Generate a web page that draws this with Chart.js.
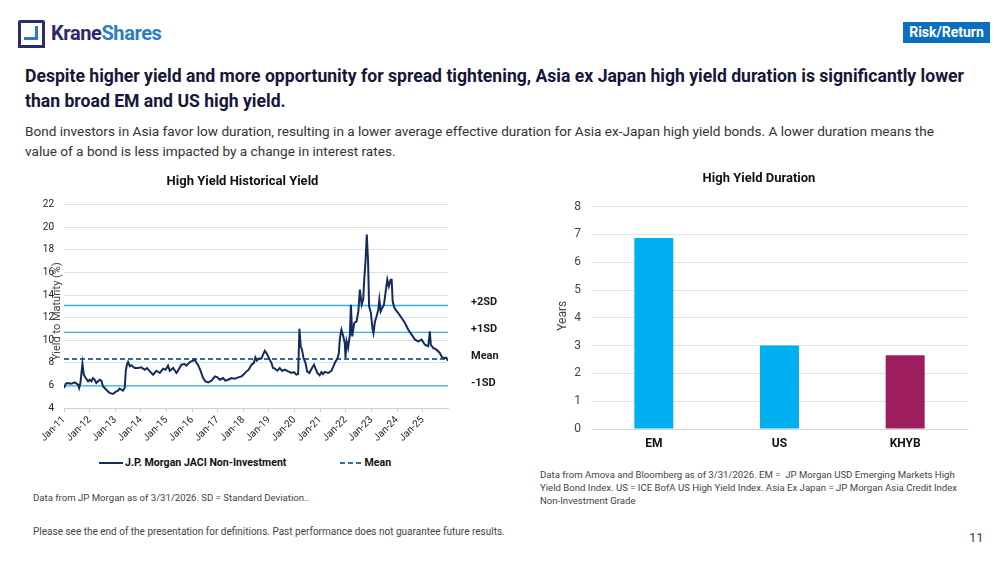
<!DOCTYPE html>
<html>
<head>
<meta charset="utf-8">
<script src="https://cdn.jsdelivr.net/npm/chart.js@4"></script>
<style>
  body { margin: 0; background: #fff; font-family: Roboto, sans-serif; }
  #page { position: relative; width: 1000px; height: 563px; overflow: hidden; }
  .abs { position: absolute; white-space: nowrap; }
  #logoBox { left: 18px; top: 20px; width: 21px; height: 22px; border: 3px solid #2b2d6e; border-radius: 2px; }
  #logoFeet { left: 18px; top: 45px; width: 27px; height: 3px; background: #2b2d6e; }
  #logoInner { left: 24px; top: 26px; width: 11px; height: 11px; border-right: 3px solid #2c7dc3; border-bottom: 3px solid #2c7dc3; }
  #logoText { left: 51px; top: 21px; font-size: 20px; font-weight: 700; color: #2b2a6b; letter-spacing: -0.4px; }
  #logoText span { color: #2c7dc3; }
  #tag { left: 903px; top: 22px; width: 87px; height: 21px; background: #0b6fbf; color: #fff; font-size: 14px; font-weight: 700; text-align: center; line-height: 21px; }
  #heading { left: 25px; top: 64px; font-size: 17.6px; font-weight: 700; color: #16163a; line-height: 25px; }
  #para { left: 25px; top: 121px; font-size: 13.6px; color: #333; line-height: 20px; }
  .note { font-size: 9.6px; color: #444; line-height: 13px; }
  #pageNo { left: 969px; top: 530px; font-size: 13px; color: #444; }
  #yieldLegend { left: 99px; top: 456px; display: flex; gap: 54px; font-size: 10.6px; font-weight: 700; color: #111; }
  #yieldLegend div { display: flex; align-items: center; }
  #yieldLegend svg { margin-right: 2px; }
</style>
</head>
<body>
<div id="page">
  <div class="abs" id="logoBox"></div>
  <div class="abs" id="logoFeet"></div>
  <div class="abs" id="logoInner"></div>
  <div class="abs" id="logoText">Krane<span>Shares</span></div>
  <div class="abs" id="tag">Risk/Return</div>
  <div class="abs" id="heading">Despite higher yield and more opportunity for spread tightening, Asia ex Japan high yield duration is significantly lower<br>than broad EM and US high yield.</div>
  <div class="abs" id="para">Bond investors in Asia favor low duration, resulting in a lower average effective duration for Asia ex-Japan high yield bonds. A lower duration means the<br>value of a bond is less impacted by a change in interest rates.</div>

  <div class="abs" style="left:25px; top:164px; width:480px; height:282px;"><canvas id="yieldChart"></canvas></div>
  <div class="abs" id="yieldLegend"></div>
  <div class="abs" style="left:520px; top:161px; width:470px; height:300px;"><canvas id="durChart"></canvas></div>

  <div class="abs note" style="left:33px; top:491px;">Data from JP Morgan as of 3/31/2026. SD = Standard Deviation..</div>
  <div class="abs note" style="left:33px; top:525px; font-size:10px;">Please see the end of the presentation for definitions. Past performance does not guarantee future results.</div>
  <div class="abs note" style="left:540px; top:468px;">Data from Amova and Bloomberg as of 3/31/2026. EM =&nbsp; JP Morgan USD Emerging Markets High<br>Yield Bond Index. US = ICE BofA US High Yield Index. Asia Ex Japan = JP Morgan Asia Credit Index<br>Non-Investment Grade</div>
  <div class="abs" id="pageNo">11</div>
</div>

<script>
// left chart: JACI non-investment grade yield to maturity (%)
var yieldDates = [
  2011.00, 2011.07, 2011.16, 2011.29, 2011.42, 2011.55, 2011.59, 2011.64, 2011.72, 2011.77,
  2011.85, 2011.94, 2012.00, 2012.07, 2012.13, 2012.20, 2012.26, 2012.33, 2012.39, 2012.46,
  2012.52, 2012.65, 2012.78, 2012.91, 2013.04, 2013.11, 2013.17, 2013.24, 2013.30, 2013.37,
  2013.41, 2013.46, 2013.50, 2013.57, 2013.63, 2013.76, 2013.89, 2014.02, 2014.15, 2014.24,
  2014.35, 2014.48, 2014.61, 2014.74, 2014.87, 2014.97, 2015.06, 2015.13, 2015.26, 2015.39,
  2015.45, 2015.58, 2015.71, 2015.78, 2015.91, 2016.04, 2016.10, 2016.17, 2016.23, 2016.34,
  2016.43, 2016.52, 2016.63, 2016.76, 2016.89, 2016.99, 2017.08, 2017.21, 2017.30, 2017.41,
  2017.54, 2017.67, 2017.80, 2017.93, 2018.03, 2018.12, 2018.21, 2018.32, 2018.41, 2018.47,
  2018.53, 2018.61, 2018.71, 2018.77, 2018.84, 2018.90, 2018.97, 2019.03, 2019.10, 2019.16,
  2019.23, 2019.33, 2019.42, 2019.51, 2019.62, 2019.75, 2019.88, 2019.98, 2020.07, 2020.14,
  2020.19, 2020.24, 2020.29, 2020.35, 2020.43, 2020.49, 2020.58, 2020.68, 2020.76, 2020.81,
  2020.89, 2020.98, 2021.05, 2021.11, 2021.18, 2021.31, 2021.44, 2021.52, 2021.57, 2021.68,
  2021.73, 2021.77, 2021.83, 2021.90, 2021.96, 2021.99, 2022.03, 2022.09, 2022.16, 2022.20,
  2022.25, 2022.33, 2022.42, 2022.49, 2022.55, 2022.62, 2022.68, 2022.72, 2022.77, 2022.82,
  2022.87, 2022.91, 2022.98, 2023.04, 2023.08, 2023.14, 2023.20, 2023.27, 2023.31, 2023.36,
  2023.42, 2023.49, 2023.55, 2023.62, 2023.68, 2023.75, 2023.79, 2023.83, 2023.88, 2023.94,
  2024.05, 2024.18, 2024.31, 2024.44, 2024.57, 2024.70, 2024.83, 2024.96, 2025.09, 2025.22,
  2025.28, 2025.32, 2025.41, 2025.54, 2025.67, 2025.76, 2025.86, 2025.92, 2025.99
];
var yieldValues = [
  5.77, 6.15, 6.20, 6.15, 6.27, 6.06, 5.77, 6.21, 7.92, 6.95,
  6.65, 6.36, 6.50, 6.36, 6.65, 6.50, 6.21, 6.36, 6.50, 6.42,
  5.92, 5.62, 5.33, 5.24, 5.47, 5.53, 5.71, 5.62, 5.53, 5.77,
  7.24, 7.89, 8.07, 7.69, 7.78, 7.54, 7.54, 7.60, 7.39, 7.54,
  7.24, 6.95, 7.30, 7.10, 7.48, 7.39, 7.75, 7.30, 7.54, 7.10,
  7.30, 7.83, 7.89, 7.75, 8.07, 8.19, 8.30, 7.98, 7.83, 7.24,
  6.65, 6.36, 6.27, 6.42, 6.80, 6.71, 6.50, 6.65, 6.42, 6.50,
  6.65, 6.60, 6.71, 6.80, 7.00, 7.24, 7.39, 7.83, 7.98, 8.48,
  8.19, 8.37, 8.37, 8.72, 9.07, 8.87, 8.57, 8.28, 7.98, 7.54,
  7.48, 7.30, 7.54, 7.30, 7.39, 7.24, 7.10, 7.18, 6.95, 7.00,
  11.02, 9.46, 9.16, 8.42, 7.98, 7.24, 7.10, 7.54, 7.83, 7.54,
  7.10, 6.89, 7.18, 7.00, 7.20, 7.10, 7.30, 7.70, 7.98, 8.42,
  8.87, 10.19, 10.93, 10.34, 9.75, 8.42, 9.90, 9.31, 10.50, 13.14,
  10.34, 11.52, 11.67, 12.55, 14.47, 13.14, 13.59, 15.36, 16.98, 19.34,
  16.98, 13.00, 12.40, 11.08, 10.64, 11.67, 12.10, 12.70, 13.59, 12.55,
  12.85, 13.14, 14.18, 15.36, 14.77, 15.36, 15.36, 13.44, 13.00, 12.70,
  12.40, 11.96, 11.52, 10.93, 10.49, 10.05, 9.90, 10.05, 9.60, 9.46,
  10.78, 9.60, 9.31, 9.16, 8.87, 8.48, 8.42, 8.45, 8.19
];
var tickYears = [2011, 2012, 2013, 2014, 2015, 2016, 2017, 2018, 2019, 2020, 2021, 2022, 2023, 2024, 2025];
var tickLabels = ['Jan-11', 'Jan-12', 'Jan-13', 'Jan-14', 'Jan-15', 'Jan-16', 'Jan-17', 'Jan-18', 'Jan-19', 'Jan-20', 'Jan-21', 'Jan-22', 'Jan-23', 'Jan-24', 'Jan-25'];
var sdLabels = ['+2SD', '+1SD', 'Mean', '-1SD'];
var sdValues = [13.07, 10.70, 8.33, 5.96];

// right chart: duration in years
var durCategories = ['EM', 'US', 'KHYB'];
var durValues = [6.87, 3.0, 2.65];
var durColors = ['#00b0f0', '#00b0f0', '#9d1d5f'];

var xStart = yieldDates[0], xEnd = yieldDates[yieldDates.length - 1];
function flatLine(v) { return [{x: xStart, y: v}, {x: xEnd, y: v}]; }

// rotated axis title drawn by hand so it can sit over the ticks like the original
function axisTitle(text, font, offset, dy) {
  return {
    id: 'axisTitle',
    afterDraw: function (chart) {
      var ctx = chart.ctx, a = chart.chartArea;
      ctx.save();
      ctx.translate(a.left - offset, (a.top + a.bottom) / 2 + dy);
      ctx.rotate(-Math.PI / 2);
      ctx.font = font;
      ctx.fillStyle = '#444';
      ctx.textAlign = 'center';
      ctx.textBaseline = 'middle';
      ctx.fillText(text, 0, 0);
      ctx.restore();
    }
  };
}

var sdLabelPlugin = {
  id: 'sdLabels',
  afterDatasetsDraw: function (chart) {
    var ctx = chart.ctx, area = chart.chartArea, ys = chart.scales.y;
    ctx.save();
    ctx.font = 'bold 11px Roboto';
    ctx.fillStyle = '#1a1a1a';
    ctx.textBaseline = 'middle';
    sdLabels.forEach(function (lbl, i) {
      ctx.fillText(lbl, area.right + 23, ys.getPixelForValue(sdValues[i]) - 3);
    });
    ctx.restore();
  }
};

var sdDatasets = sdValues.map(function (v, i) {
  return {
    label: sdLabels[i],
    data: flatLine(v),
    borderColor: i === 2 ? '#2f6fa3' : '#2fb2e6',
    borderWidth: i === 2 ? 2 : 1.3,
    borderDash: i === 2 ? [5, 3] : [],
    pointRadius: 0
  };
});
var meanSet = sdDatasets.splice(2, 1)[0];

var yieldChart = new Chart(document.getElementById('yieldChart'), {
  type: 'line',
  data: {
    datasets: [{
      label: 'J.P. Morgan JACI Non-Investment',
      data: yieldDates.map(function (d, i) { return {x: d, y: yieldValues[i]}; }),
      borderColor: '#142b5e',
      borderWidth: 2,
      borderDash: [],
      pointRadius: 0,
      tension: 0
    }, meanSet].concat(sdDatasets)
  },
  options: {
    responsive: true,
    maintainAspectRatio: false,
    animation: false,
    layout: { padding: { left: 12, right: 57, top: 0, bottom: 0 } },
    plugins: {
      title: { display: true, text: 'High Yield Historical Yield', color: '#111', font: { family: 'Roboto', size: 13, weight: 'bold' }, padding: { top: 10, bottom: 15 } },
      legend: { display: false },
      tooltip: { enabled: false }
    },
    scales: {
      x: {
        type: 'linear', min: xStart, max: xEnd,
        afterBuildTicks: function (scale) { scale.ticks = tickYears.map(function (v) { return {value: v}; }); },
        afterFit: function (scale) { scale.height = 38; },
        ticks: {
          callback: function (v) { return tickLabels[tickYears.indexOf(v)]; },
          minRotation: 45, maxRotation: 45, color: '#222', font: { family: 'Roboto', size: 10 }, padding: 2
        },
        grid: { drawOnChartArea: false, tickLength: 4, color: '#cfcfcf' },
        border: { color: '#cfcfcf' }
      },
      y: {
        min: 4, max: 22,
        afterFit: function (scale) { scale.width = 27; },
        ticks: { stepSize: 2, color: '#222', font: { family: 'Roboto', size: 10 }, padding: 10 },
        grid: { color: '#e0e0e0', drawTicks: false },
        border: { display: false }
      }
    }
  },
  plugins: [sdLabelPlugin, axisTitle('Yield to Maturity (%)', '11px Roboto', 7, 5)]
});

// legend for the two named series, built from the chart's own datasets
yieldChart.data.datasets.slice(0, 2).forEach(function (ds) {
  var item = document.createElement('div');
  var dash = ds.borderDash.length ? ' stroke-dasharray="' + ds.borderDash.join(' ') + '"' : '';
  var w = ds.borderDash.length ? 22 : 24;
  item.innerHTML = '<svg width="' + w + '" height="6"><line x1="0" y1="3" x2="' + w + '" y2="3" stroke="' + ds.borderColor +
    '" stroke-width="2"' + dash + '/></svg><span>' + ds.label + '</span>';
  document.getElementById('yieldLegend').appendChild(item);
});

new Chart(document.getElementById('durChart'), {
  type: 'bar',
  data: {
    labels: durCategories,
    datasets: [{ label: 'Duration', data: durValues, backgroundColor: durColors, barPercentage: 0.31, categoryPercentage: 1 }]
  },
  options: {
    responsive: true,
    maintainAspectRatio: false,
    animation: false,
    layout: { padding: { left: 30, right: 22, top: 0, bottom: 0 } },
    plugins: {
      title: { display: true, text: 'High Yield Duration', color: '#111', font: { family: 'Roboto', size: 13, weight: 'bold' }, padding: { top: 10, bottom: 20 } },
      legend: { display: false },
      tooltip: { enabled: false }
    },
    scales: {
      x: {
        afterFit: function (scale) { scale.height = 32; },
        ticks: { color: '#111', font: { family: 'Roboto', size: 12, weight: 'bold' }, padding: 8 },
        grid: { display: false, drawTicks: false },
        border: { color: '#d9d9d9' }
      },
      y: {
        min: 0, max: 8,
        afterFit: function (scale) { scale.width = 41; },
        ticks: { stepSize: 1, color: '#444', font: { family: 'Roboto', size: 12 }, padding: 10 },
        grid: { color: '#e3e3e3', drawTicks: false },
        border: { display: false }
      }
    }
  },
  plugins: [axisTitle('Years', '12px Roboto', 28, -2)]
});
</script>
</body>
</html>
